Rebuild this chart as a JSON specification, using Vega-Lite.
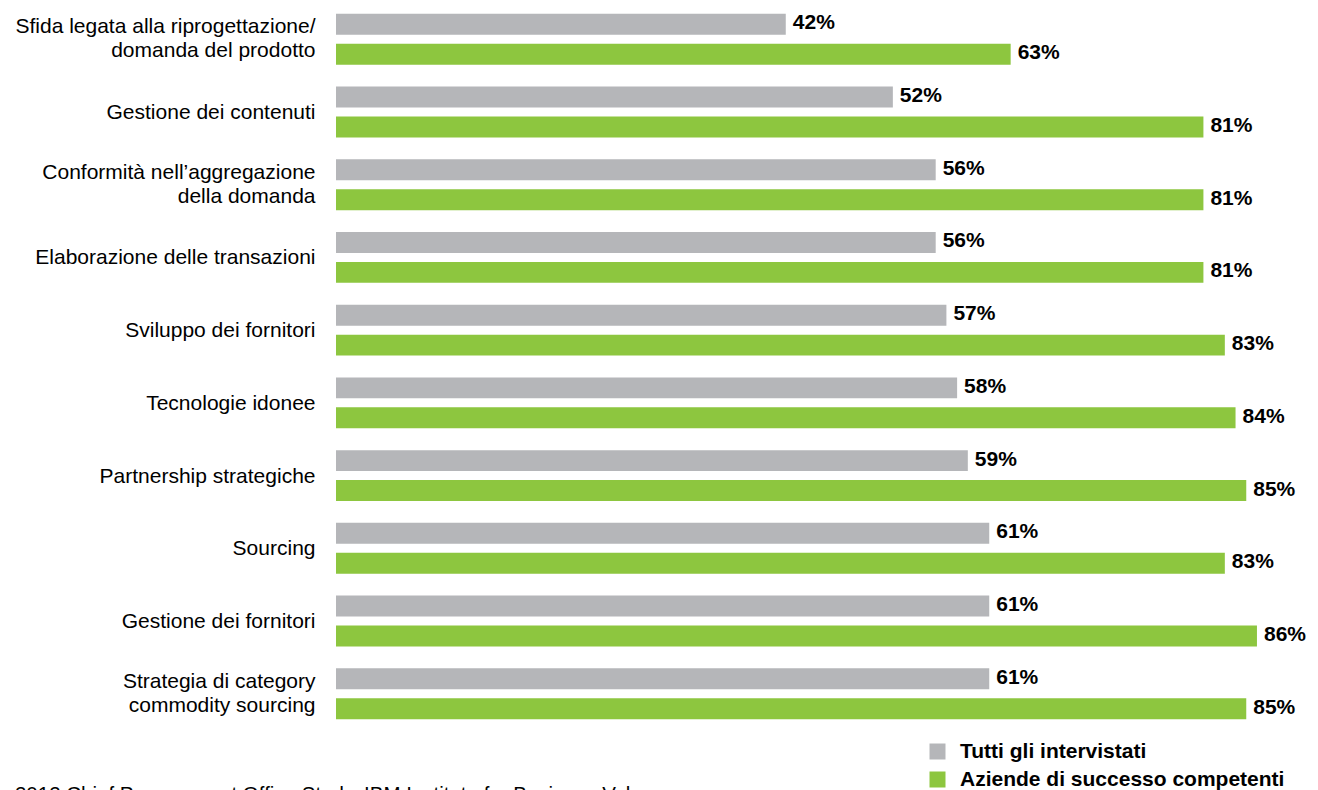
{
  "$schema": "https://vega.github.io/schema/vega-lite/v6.json",
  "autosize": {"type": "none"},
  "width": 982,
  "height": 733,
  "padding": {"left": 336, "top": 0, "right": 0, "bottom": 57},
  "background": "white",
  "config": {
    "view": {"stroke": null},
    "font": "Liberation Sans"
  },
  "title": {
    "text": "2012 Chief Procurement Office Study, IBM Institute for Business Value",
    "orient": "bottom",
    "anchor": "start",
    "frame": "bounds",
    "fontSize": 20.5,
    "fontWeight": "normal",
    "color": "#000000",
    "offset": 0,
    "dy": -5
  },
  "data": {
    "values": [
      {"cat": "Sfida legata alla riprogettazione/|domanda del prodotto", "serie": "Tutti gli intervistati", "v": 0.42},
      {"cat": "Sfida legata alla riprogettazione/|domanda del prodotto", "serie": "Aziende di successo competenti", "v": 0.63},
      {"cat": "Gestione dei contenuti", "serie": "Tutti gli intervistati", "v": 0.52},
      {"cat": "Gestione dei contenuti", "serie": "Aziende di successo competenti", "v": 0.81},
      {"cat": "Conformità nell’aggregazione|della domanda", "serie": "Tutti gli intervistati", "v": 0.56},
      {"cat": "Conformità nell’aggregazione|della domanda", "serie": "Aziende di successo competenti", "v": 0.81},
      {"cat": "Elaborazione delle transazioni", "serie": "Tutti gli intervistati", "v": 0.56},
      {"cat": "Elaborazione delle transazioni", "serie": "Aziende di successo competenti", "v": 0.81},
      {"cat": "Sviluppo dei fornitori", "serie": "Tutti gli intervistati", "v": 0.57},
      {"cat": "Sviluppo dei fornitori", "serie": "Aziende di successo competenti", "v": 0.83},
      {"cat": "Tecnologie idonee", "serie": "Tutti gli intervistati", "v": 0.58},
      {"cat": "Tecnologie idonee", "serie": "Aziende di successo competenti", "v": 0.84},
      {"cat": "Partnership strategiche", "serie": "Tutti gli intervistati", "v": 0.59},
      {"cat": "Partnership strategiche", "serie": "Aziende di successo competenti", "v": 0.85},
      {"cat": "Sourcing", "serie": "Tutti gli intervistati", "v": 0.61},
      {"cat": "Sourcing", "serie": "Aziende di successo competenti", "v": 0.83},
      {"cat": "Gestione dei fornitori", "serie": "Tutti gli intervistati", "v": 0.61},
      {"cat": "Gestione dei fornitori", "serie": "Aziende di successo competenti", "v": 0.86},
      {"cat": "Strategia di category|commodity sourcing", "serie": "Tutti gli intervistati", "v": 0.61},
      {"cat": "Strategia di category|commodity sourcing", "serie": "Aziende di successo competenti", "v": 0.85}
    ]
  },
  "encoding": {
    "y": {
      "field": "cat",
      "type": "nominal",
      "sort": null,
      "scale": {"paddingInner": 0.3, "paddingOuter": 0.19},
      "axis": {
        "title": null,
        "domain": false,
        "ticks": false,
        "labelExpr": "split(datum.label, '|')",
        "labelFontSize": 21,
        "labelLineHeight": 24,
        "labelColor": "#000000",
        "labelPadding": 21,
        "labelLimit": 0,
        "labelOffset": {"condition": {"test": "indexof(datum.value, '|') >= 0", "value": -12}, "value": 1}
      }
    },
    "yOffset": {
      "field": "serie",
      "type": "nominal",
      "sort": ["Tutti gli intervistati", "Aziende di successo competenti"],
      "scale": {"paddingInner": 0.3, "paddingOuter": 0}
    },
    "x": {
      "field": "v",
      "type": "quantitative",
      "scale": {"domain": [0, 0.917], "nice": false},
      "axis": null
    }
  },
  "layer": [
    {
      "mark": {"type": "bar"},
      "encoding": {
        "color": {
          "field": "serie",
          "type": "nominal",
          "scale": {
            "domain": ["Tutti gli intervistati", "Aziende di successo competenti"],
            "range": ["#b5b6b9", "#8dc63f"]
          },
          "legend": {
            "title": null,
            "orient": "none",
            "legendX": 591,
            "legendY": 741,
            "symbolType": "square",
            "symbolSize": 256,
            "symbolStrokeWidth": 0,
            "labelFontSize": 21,
            "labelFontWeight": "bold",
            "labelColor": "#000000",
            "labelOffset": 12,
            "rowPadding": 6,
            "labelLimit": 0
          }
        }
      }
    },
    {
      "mark": {"type": "text", "align": "left", "baseline": "middle", "dx": 7, "dy": -1, "fontSize": 21, "fontWeight": "bold", "color": "#000000"},
      "encoding": {
        "text": {"field": "v", "type": "quantitative", "format": ".0%"}
      }
    }
  ]
}
